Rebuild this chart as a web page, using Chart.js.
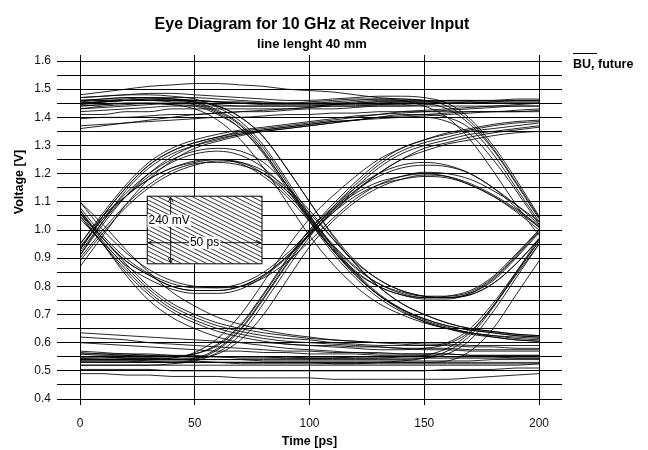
<!DOCTYPE html>
<html>
<head>
<meta charset="utf-8">
<title>Eye Diagram</title>
<script src="https://cdn.jsdelivr.net/npm/chart.js@4.4.0/dist/chart.umd.min.js"></script>
<style>
  html, body { margin: 0; padding: 0; background: #fff; }
</style>
</head>
<body>
<canvas id="eyeChart" width="648" height="450"></canvas>
<script>
// sample times of every trace (ps)
const timePs = [0, 10, 20, 30, 40, 50, 60, 70, 80, 90, 100, 110, 120, 130, 140, 150, 160, 170, 180, 190, 200];

// voltage traces (V), one array per sweep, grouped by bit pattern
const highRail = [
  [1.48, 1.49, 1.50, 1.51, 1.515, 1.52, 1.52, 1.515, 1.51, 1.50, 1.495, 1.49, 1.48, 1.47, 1.465, 1.46, 1.455, 1.455, 1.45, 1.45, 1.45],
  [1.46, 1.46, 1.465, 1.47, 1.47, 1.47, 1.465, 1.46, 1.455, 1.45, 1.45, 1.45, 1.455, 1.46, 1.46, 1.46, 1.46, 1.46, 1.46, 1.465, 1.465],
  [1.445, 1.45, 1.45, 1.45, 1.45, 1.45, 1.445, 1.44, 1.44, 1.44, 1.44, 1.445, 1.45, 1.45, 1.455, 1.455, 1.45, 1.45, 1.45, 1.45, 1.45],
  [1.455, 1.46, 1.46, 1.465, 1.465, 1.46, 1.455, 1.455, 1.45, 1.45, 1.45, 1.45, 1.45, 1.455, 1.455, 1.455, 1.46, 1.46, 1.46, 1.46, 1.46],
  [1.43, 1.435, 1.44, 1.445, 1.45, 1.45, 1.45, 1.45, 1.445, 1.445, 1.445, 1.445, 1.445, 1.445, 1.45, 1.45, 1.45, 1.455, 1.455, 1.455, 1.455],
  [1.41, 1.41, 1.42, 1.42, 1.43, 1.43, 1.43, 1.43, 1.43, 1.43, 1.435, 1.44, 1.44, 1.44, 1.44, 1.44, 1.44, 1.44, 1.44, 1.44, 1.44],
  [1.395, 1.40, 1.40, 1.405, 1.41, 1.41, 1.415, 1.42, 1.42, 1.425, 1.43, 1.43, 1.435, 1.44, 1.44, 1.445, 1.45, 1.45, 1.455, 1.46, 1.46],
  [1.37, 1.375, 1.38, 1.39, 1.40, 1.41, 1.415, 1.42, 1.425, 1.43, 1.435, 1.44, 1.44, 1.445, 1.445, 1.45, 1.45, 1.45, 1.45, 1.45, 1.45],
  [1.36, 1.37, 1.38, 1.385, 1.39, 1.395, 1.40, 1.40, 1.405, 1.41, 1.41, 1.415, 1.415, 1.42, 1.42, 1.42, 1.42, 1.42, 1.42, 1.42, 1.42]
];
const lowRail = [
  [0.635, 0.63, 0.625, 0.62, 0.615, 0.61, 0.605, 0.60, 0.60, 0.595, 0.59, 0.59, 0.585, 0.585, 0.58, 0.58, 0.58, 0.575, 0.575, 0.575, 0.575],
  [0.62, 0.615, 0.61, 0.60, 0.595, 0.59, 0.585, 0.58, 0.575, 0.57, 0.57, 0.565, 0.565, 0.56, 0.56, 0.56, 0.56, 0.555, 0.555, 0.555, 0.555],
  [0.60, 0.595, 0.59, 0.585, 0.58, 0.575, 0.57, 0.57, 0.565, 0.565, 0.56, 0.56, 0.56, 0.555, 0.555, 0.555, 0.55, 0.55, 0.55, 0.55, 0.55],
  [0.57, 0.565, 0.56, 0.56, 0.555, 0.555, 0.55, 0.55, 0.55, 0.55, 0.545, 0.545, 0.545, 0.545, 0.545, 0.545, 0.545, 0.545, 0.545, 0.545, 0.545],
  [0.56, 0.56, 0.555, 0.555, 0.55, 0.55, 0.55, 0.545, 0.545, 0.545, 0.545, 0.545, 0.55, 0.55, 0.55, 0.55, 0.55, 0.55, 0.55, 0.545, 0.545],
  [0.55, 0.55, 0.545, 0.545, 0.54, 0.54, 0.54, 0.54, 0.535, 0.535, 0.535, 0.535, 0.535, 0.535, 0.535, 0.535, 0.535, 0.535, 0.54, 0.54, 0.54],
  [0.545, 0.54, 0.54, 0.535, 0.535, 0.535, 0.53, 0.53, 0.53, 0.53, 0.53, 0.525, 0.525, 0.525, 0.525, 0.525, 0.525, 0.525, 0.525, 0.525, 0.525],
  [0.535, 0.535, 0.535, 0.53, 0.53, 0.53, 0.53, 0.53, 0.53, 0.53, 0.53, 0.53, 0.53, 0.53, 0.53, 0.53, 0.53, 0.53, 0.53, 0.53, 0.53],
  [0.52, 0.52, 0.52, 0.52, 0.52, 0.52, 0.52, 0.52, 0.52, 0.52, 0.52, 0.52, 0.52, 0.52, 0.52, 0.52, 0.52, 0.52, 0.52, 0.52, 0.525],
  [0.505, 0.505, 0.505, 0.505, 0.50, 0.50, 0.50, 0.50, 0.50, 0.50, 0.50, 0.50, 0.50, 0.50, 0.50, 0.50, 0.505, 0.505, 0.505, 0.51, 0.51],
  [0.49, 0.49, 0.485, 0.485, 0.48, 0.48, 0.48, 0.475, 0.475, 0.475, 0.475, 0.47, 0.47, 0.47, 0.47, 0.47, 0.47, 0.475, 0.48, 0.485, 0.49]
];
const fallAtStart = [
  [1.07, 0.97, 0.88, 0.80, 0.74, 0.70, 0.67, 0.65, 0.635, 0.625, 0.615, 0.61, 0.605, 0.60, 0.595, 0.59, 0.59, 0.585, 0.585, 0.58, 0.58],
  [1.05, 0.95, 0.86, 0.78, 0.72, 0.68, 0.65, 0.63, 0.615, 0.605, 0.60, 0.595, 0.59, 0.585, 0.58, 0.575, 0.575, 0.57, 0.57, 0.57, 0.57],
  [1.06, 0.95, 0.84, 0.75, 0.69, 0.65, 0.62, 0.60, 0.59, 0.58, 0.575, 0.57, 0.565, 0.565, 0.56, 0.56, 0.56, 0.555, 0.555, 0.555, 0.555],
  [1.10, 1.02, 0.93, 0.85, 0.78, 0.73, 0.69, 0.665, 0.645, 0.63, 0.62, 0.61, 0.605, 0.60, 0.60, 0.595, 0.595, 0.59, 0.59, 0.59, 0.59],
  [1.07, 0.96, 0.87, 0.79, 0.73, 0.69, 0.66, 0.64, 0.625, 0.615, 0.61, 0.60, 0.595, 0.59, 0.59, 0.59, 0.60, 0.65, 0.74, 0.85, 0.96],
  [1.05, 0.95, 0.85, 0.77, 0.71, 0.67, 0.64, 0.62, 0.605, 0.595, 0.59, 0.585, 0.58, 0.575, 0.575, 0.58, 0.595, 0.64, 0.73, 0.84, 0.95]
];
const riseAtEnd = [
  [0.55, 0.55, 0.545, 0.545, 0.54, 0.54, 0.54, 0.54, 0.54, 0.54, 0.54, 0.54, 0.54, 0.54, 0.54, 0.545, 0.56, 0.61, 0.71, 0.83, 0.95],
  [0.53, 0.53, 0.53, 0.53, 0.53, 0.53, 0.53, 0.525, 0.525, 0.525, 0.525, 0.525, 0.525, 0.53, 0.535, 0.545, 0.57, 0.625, 0.725, 0.845, 0.96],
  [0.565, 0.56, 0.56, 0.555, 0.555, 0.55, 0.55, 0.55, 0.55, 0.545, 0.545, 0.545, 0.545, 0.545, 0.55, 0.555, 0.58, 0.635, 0.73, 0.85, 0.97],
  [0.535, 0.535, 0.535, 0.535, 0.53, 0.53, 0.53, 0.53, 0.53, 0.53, 0.53, 0.53, 0.53, 0.53, 0.53, 0.53, 0.535, 0.57, 0.65, 0.77, 0.89]
];
const riseAtMiddle = [
  [0.54, 0.54, 0.54, 0.54, 0.54, 0.545, 0.58, 0.65, 0.76, 0.88, 0.99, 1.07, 1.13, 1.17, 1.19, 1.20, 1.19, 1.16, 1.12, 1.07, 1.01],
  [0.56, 0.555, 0.555, 0.55, 0.55, 0.56, 0.595, 0.665, 0.775, 0.895, 1.00, 1.08, 1.15, 1.20, 1.23, 1.24, 1.23, 1.20, 1.15, 1.09, 1.02],
  [0.545, 0.545, 0.545, 0.545, 0.545, 0.545, 0.56, 0.61, 0.70, 0.82, 0.94, 1.03, 1.10, 1.15, 1.18, 1.195, 1.19, 1.165, 1.125, 1.075, 1.015],
  [0.53, 0.53, 0.53, 0.53, 0.53, 0.54, 0.575, 0.645, 0.755, 0.875, 0.985, 1.08, 1.16, 1.23, 1.28, 1.31, 1.33, 1.35, 1.36, 1.37, 1.38],
  [0.55, 0.55, 0.55, 0.55, 0.55, 0.56, 0.59, 0.66, 0.77, 0.89, 1.00, 1.09, 1.17, 1.24, 1.29, 1.32, 1.345, 1.36, 1.375, 1.385, 1.39],
  [0.52, 0.52, 0.52, 0.52, 0.525, 0.535, 0.565, 0.63, 0.74, 0.86, 0.975, 1.07, 1.15, 1.22, 1.27, 1.30, 1.32, 1.34, 1.35, 1.36, 1.37],
  [0.54, 0.54, 0.54, 0.54, 0.545, 0.565, 0.615, 0.70, 0.815, 0.935, 1.04, 1.12, 1.19, 1.25, 1.29, 1.32, 1.34, 1.355, 1.37, 1.38, 1.385]
];
const riseAtStart = [
  [0.94, 1.04, 1.12, 1.18, 1.22, 1.245, 1.25, 1.235, 1.19, 1.12, 1.03, 0.93, 0.84, 0.77, 0.72, 0.685, 0.66, 0.645, 0.635, 0.625, 0.62],
  [0.92, 1.03, 1.12, 1.19, 1.24, 1.27, 1.28, 1.265, 1.22, 1.14, 1.045, 0.945, 0.85, 0.775, 0.72, 0.68, 0.655, 0.635, 0.62, 0.61, 0.605],
  [0.89, 0.99, 1.08, 1.15, 1.20, 1.23, 1.245, 1.24, 1.21, 1.15, 1.07, 0.97, 0.88, 0.80, 0.74, 0.70, 0.67, 0.65, 0.64, 0.63, 0.625],
  [0.93, 1.04, 1.13, 1.20, 1.25, 1.28, 1.29, 1.28, 1.24, 1.16, 1.05, 0.95, 0.87, 0.81, 0.78, 0.765, 0.765, 0.78, 0.83, 0.91, 1.00],
  [0.95, 1.05, 1.12, 1.18, 1.22, 1.24, 1.25, 1.24, 1.20, 1.13, 1.04, 0.945, 0.865, 0.81, 0.775, 0.76, 0.76, 0.775, 0.82, 0.90, 0.99],
  [0.90, 1.00, 1.09, 1.16, 1.21, 1.235, 1.24, 1.23, 1.20, 1.14, 1.06, 0.97, 0.885, 0.825, 0.785, 0.765, 0.76, 0.77, 0.81, 0.88, 0.965],
  [0.93, 1.05, 1.15, 1.23, 1.28, 1.31, 1.33, 1.345, 1.355, 1.365, 1.375, 1.385, 1.39, 1.40, 1.40, 1.40, 1.385, 1.34, 1.25, 1.14, 1.02],
  [0.91, 1.03, 1.14, 1.22, 1.27, 1.30, 1.32, 1.34, 1.35, 1.36, 1.37, 1.38, 1.39, 1.40, 1.41, 1.41, 1.40, 1.36, 1.27, 1.15, 1.03],
  [0.93, 1.05, 1.15, 1.23, 1.28, 1.31, 1.33, 1.35, 1.36, 1.37, 1.38, 1.39, 1.40, 1.41, 1.415, 1.42, 1.425, 1.43, 1.435, 1.44, 1.44],
  [0.95, 1.06, 1.16, 1.24, 1.29, 1.32, 1.34, 1.355, 1.365, 1.375, 1.385, 1.395, 1.405, 1.41, 1.42, 1.425, 1.43, 1.435, 1.44, 1.445, 1.45],
  [0.91, 1.02, 1.12, 1.20, 1.26, 1.30, 1.325, 1.34, 1.355, 1.365, 1.375, 1.385, 1.39, 1.40, 1.405, 1.41, 1.415, 1.42, 1.42, 1.425, 1.43],
  [0.87, 0.98, 1.09, 1.18, 1.245, 1.29, 1.315, 1.335, 1.35, 1.36, 1.37, 1.38, 1.39, 1.395, 1.40, 1.405, 1.41, 1.415, 1.42, 1.42, 1.425]
];
const fallRise = [
  [1.06, 0.97, 0.89, 0.84, 0.80, 0.785, 0.785, 0.80, 0.84, 0.905, 0.985, 1.06, 1.12, 1.16, 1.18, 1.19, 1.185, 1.16, 1.12, 1.065, 1.00],
  [1.08, 0.98, 0.90, 0.845, 0.81, 0.795, 0.795, 0.81, 0.85, 0.915, 0.995, 1.075, 1.14, 1.19, 1.22, 1.23, 1.225, 1.20, 1.15, 1.08, 1.01],
  [1.10, 1.00, 0.92, 0.86, 0.82, 0.80, 0.795, 0.80, 0.83, 0.885, 0.96, 1.04, 1.11, 1.16, 1.19, 1.205, 1.20, 1.18, 1.14, 1.09, 1.03],
  [1.06, 0.97, 0.89, 0.84, 0.80, 0.785, 0.785, 0.80, 0.84, 0.905, 0.985, 1.065, 1.14, 1.20, 1.25, 1.28, 1.305, 1.32, 1.335, 1.345, 1.35],
  [1.04, 0.955, 0.875, 0.825, 0.79, 0.775, 0.775, 0.79, 0.835, 0.90, 0.98, 1.06, 1.135, 1.20, 1.25, 1.29, 1.31, 1.33, 1.345, 1.355, 1.365]
];
const fallAtMiddle = [
  [1.45, 1.455, 1.46, 1.46, 1.455, 1.45, 1.42, 1.37, 1.28, 1.16, 1.04, 0.93, 0.84, 0.77, 0.72, 0.685, 0.66, 0.645, 0.635, 0.625, 0.62],
  [1.43, 1.44, 1.445, 1.45, 1.45, 1.445, 1.415, 1.36, 1.27, 1.15, 1.03, 0.92, 0.83, 0.76, 0.71, 0.675, 0.65, 0.635, 0.625, 0.615, 0.61],
  [1.47, 1.475, 1.48, 1.48, 1.475, 1.465, 1.435, 1.385, 1.30, 1.18, 1.055, 0.94, 0.845, 0.77, 0.715, 0.675, 0.65, 0.63, 0.62, 0.61, 0.605],
  [1.45, 1.455, 1.46, 1.465, 1.46, 1.455, 1.44, 1.40, 1.33, 1.22, 1.10, 0.98, 0.88, 0.80, 0.74, 0.70, 0.67, 0.65, 0.64, 0.63, 0.625],
  [1.44, 1.445, 1.45, 1.45, 1.445, 1.43, 1.39, 1.32, 1.22, 1.10, 0.98, 0.88, 0.80, 0.74, 0.70, 0.67, 0.65, 0.635, 0.625, 0.62, 0.615],
  [1.46, 1.465, 1.47, 1.47, 1.465, 1.455, 1.425, 1.375, 1.29, 1.17, 1.045, 0.935, 0.855, 0.80, 0.77, 0.755, 0.755, 0.775, 0.825, 0.905, 0.995],
  [1.44, 1.445, 1.45, 1.45, 1.445, 1.44, 1.41, 1.36, 1.275, 1.16, 1.035, 0.93, 0.85, 0.80, 0.77, 0.76, 0.765, 0.785, 0.835, 0.915, 1.00],
  [1.45, 1.455, 1.46, 1.46, 1.46, 1.455, 1.44, 1.40, 1.33, 1.22, 1.10, 0.985, 0.89, 0.825, 0.785, 0.765, 0.76, 0.77, 0.81, 0.88, 0.97]
];
const fallAtEnd = [
  [1.45, 1.455, 1.46, 1.46, 1.46, 1.46, 1.455, 1.45, 1.45, 1.45, 1.45, 1.455, 1.46, 1.465, 1.465, 1.46, 1.44, 1.385, 1.29, 1.17, 1.045],
  [1.47, 1.475, 1.48, 1.485, 1.485, 1.48, 1.475, 1.47, 1.465, 1.46, 1.46, 1.465, 1.47, 1.475, 1.475, 1.47, 1.45, 1.395, 1.30, 1.18, 1.05],
  [1.42, 1.425, 1.43, 1.435, 1.44, 1.44, 1.44, 1.44, 1.44, 1.44, 1.44, 1.445, 1.45, 1.455, 1.455, 1.45, 1.43, 1.375, 1.285, 1.165, 1.04],
  [1.46, 1.465, 1.47, 1.47, 1.465, 1.46, 1.455, 1.45, 1.45, 1.45, 1.455, 1.46, 1.465, 1.465, 1.46, 1.44, 1.40, 1.32, 1.21, 1.09, 0.98]
];

// axis ticks
const timeTicks = [0, 50, 100, 150, 200];
const voltTicks = [0.4, 0.5, 0.6, 0.7, 0.8, 0.9, 1.0, 1.1, 1.2, 1.3, 1.4, 1.5, 1.6];

// eye mask: 50 ps wide, 240 mV high
const maskTime = [29.3, 79.3];
const maskVolt = [0.88, 1.12];
const maskLabels = ['240 mV', '50 ps'];

const chartTitle = 'Eye Diagram for 10 GHz at Receiver Input';
const chartSubtitle = 'line lenght 40 mm';
const xTitle = 'Time [ps]';
const yTitle = 'Voltage [V]';
const seriesName = 'BU, future';

const FONT = '"Liberation Sans", Arial, sans-serif';

const allTraces = [].concat(highRail, lowRail, fallAtStart, riseAtEnd, riseAtMiddle,
                            riseAtStart, fallRise, fallAtMiddle, fallAtEnd);

const datasets = allTraces.map(trace => ({
  data: trace.map((v, i) => ({ x: timePs[i], y: v })),
  borderColor: '#000',
  borderWidth: 0.85,
  pointRadius: 0,
  fill: false,
  cubicInterpolationMode: 'monotone'
}));

// mask, titles and legend
const eyeDecor = {
  id: 'eyeDecor',
  afterDatasetsDraw(chart) {
    const ctx = chart.ctx;
    const xs = chart.scales.x, ys = chart.scales.y;
    const l = xs.getPixelForValue(maskTime[0]), r = xs.getPixelForValue(maskTime[1]);
    const t = ys.getPixelForValue(maskVolt[1]), b = ys.getPixelForValue(maskVolt[0]);
    ctx.save();
    ctx.fillStyle = '#fff';
    ctx.fillRect(l, t, r - l, b - t);
    ctx.save();
    ctx.beginPath();
    ctx.rect(l, t, r - l, b - t);
    ctx.clip();
    ctx.beginPath();
    ctx.strokeStyle = '#000';
    ctx.lineWidth = 0.8;
    for (let k = -160; k < r - l + 10; k += 8.5) {
      ctx.moveTo(l + k, t);
      ctx.lineTo(l + k + 2 * (b - t), b);
    }
    ctx.stroke();
    ctx.restore();
    ctx.lineWidth = 1;
    ctx.strokeStyle = '#000';
    ctx.strokeRect(l, t, r - l, b - t);

    // arrows
    const ax = xs.getPixelForValue(39.5);
    const ay = ys.getPixelForValue(0.955);
    ctx.beginPath();
    ctx.lineWidth = 0.9;
    ctx.moveTo(ax, t + 1); ctx.lineTo(ax, b - 1);
    ctx.moveTo(ax - 2.5, t + 6); ctx.lineTo(ax, t + 1); ctx.lineTo(ax + 2.5, t + 6);
    ctx.moveTo(ax - 2.5, b - 6); ctx.lineTo(ax, b - 1); ctx.lineTo(ax + 2.5, b - 6);
    ctx.moveTo(l + 1, ay); ctx.lineTo(r - 1, ay);
    ctx.moveTo(l + 6, ay - 2.5); ctx.lineTo(l + 1, ay); ctx.lineTo(l + 6, ay + 2.5);
    ctx.moveTo(r - 6, ay - 2.5); ctx.lineTo(r - 1, ay); ctx.lineTo(r - 6, ay + 2.5);
    ctx.stroke();

    ctx.font = '12px ' + FONT;
    ctx.textBaseline = 'middle';
    ctx.textAlign = 'center';
    const labelPos = [[ax - 1.5, ys.getPixelForValue(1.033)], [(l + r) / 2, ay]];
    maskLabels.forEach((txt, i) => {
      const w = ctx.measureText(txt).width;
      const [px, py] = labelPos[i];
      ctx.fillStyle = '#fff';
      ctx.fillRect(px - w / 2 - 1, py - 6, w + 2, 12);
      ctx.fillStyle = '#000';
      ctx.fillText(txt, px, py);
    });
    ctx.restore();
  },
  afterDraw(chart) {
    const ctx = chart.ctx;
    const area = chart.chartArea;
    ctx.save();
    ctx.fillStyle = '#000';
    ctx.textAlign = 'center';
    ctx.textBaseline = 'middle';
    ctx.font = 'bold 16px ' + FONT;
    ctx.fillText(chartTitle, 312, 25);
    ctx.font = 'bold 13px ' + FONT;
    ctx.fillText(chartSubtitle, 312, 44);
    ctx.font = 'bold 12.5px ' + FONT;
    ctx.fillText(xTitle, (area.left + area.right) / 2, 442);
    ctx.save();
    ctx.translate(20, 182);
    ctx.rotate(-Math.PI / 2);
    ctx.fillText(yTitle, 0, 0);
    ctx.restore();
    // legend entry
    ctx.textAlign = 'left';
    ctx.fillText(seriesName, 573, 65);
    ctx.beginPath();
    ctx.lineWidth = 1;
    ctx.strokeStyle = '#000';
    ctx.moveTo(573, 53.5);
    ctx.lineTo(597, 53.5);
    ctx.stroke();
    ctx.restore();
  }
};

const tickFont = { family: FONT, size: 12 };

const ctx = document.getElementById('eyeChart').getContext('2d');
const eyeChart = new Chart(ctx, {
  type: 'line',
  data: { datasets: datasets },
  options: {
    responsive: false,
    animation: false,
    events: [],
    layout: { padding: 0 },
    plugins: {
      legend: { display: false },
      title: { display: false },
      tooltip: { enabled: false }
    },
    scales: {
      x: {
        type: 'linear',
        position: 'bottom',
        min: timeTicks[0],
        max: timeTicks[timeTicks.length - 1],
        afterBuildTicks: s => { s.ticks = timeTicks.map(v => ({ value: v })); },
        ticks: { padding: 11, color: '#111', font: tickFont, maxRotation: 0 },
        grid: { color: '#000', lineWidth: 1, tickLength: 6 },
        border: { color: '#000' },
        afterFit: s => { s.height = 51; }
      },
      xTop: {
        type: 'linear',
        position: 'top',
        min: timeTicks[0],
        max: timeTicks[timeTicks.length - 1],
        afterBuildTicks: s => { s.ticks = timeTicks.map(v => ({ value: v })); },
        ticks: { display: false },
        grid: { color: '#000', lineWidth: 1, tickLength: 6, drawOnChartArea: false },
        border: { display: false },
        afterFit: s => { s.height = 61; }
      },
      y: {
        type: 'linear',
        position: 'left',
        min: voltTicks[0],
        max: voltTicks[voltTicks.length - 1],
        ticks: {
          stepSize: 0.05,
          autoSkip: false,
          padding: 6,
          color: '#111',
          font: tickFont,
          callback: v => {
            const hit = voltTicks.find(t => Math.abs(t - v) < 1e-6);
            return hit === undefined ? '' : hit.toFixed(1);
          }
        },
        grid: { color: '#000', lineWidth: 1, tickLength: 23 },
        border: { color: '#000' },
        afterFit: s => { s.width = 80; }
      },
      yRight: {
        type: 'linear',
        position: 'right',
        min: voltTicks[0],
        max: voltTicks[voltTicks.length - 1],
        ticks: { display: false, stepSize: 0.05, autoSkip: false },
        grid: { color: '#000', lineWidth: 1, tickLength: 23, drawOnChartArea: false },
        border: { display: false },
        afterFit: s => { s.width = 109; }
      }
    }
  },
  plugins: [eyeDecor]
});
</script>
</body>
</html>
